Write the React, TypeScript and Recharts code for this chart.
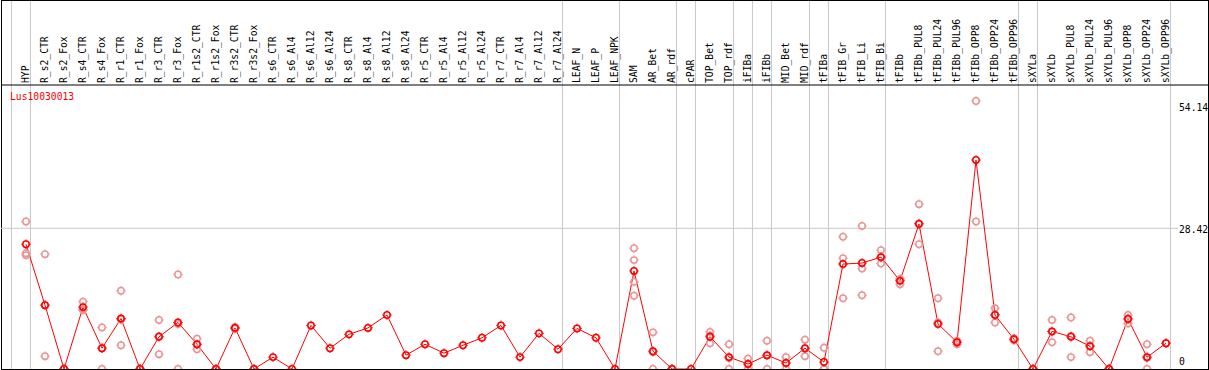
import React from "react";
import { ComposedChart, Line, XAxis, YAxis, ReferenceLine } from "recharts";

const categories = [
  "HYP", "R_s2_CTR", "R_s2_Fox", "R_s4_CTR", "R_s4_Fox", "R_r1_CTR", "R_r1_Fox", "R_r3_CTR", "R_r3_Fox",
  "R_r1s2_CTR", "R_r1s2_Fox", "R_r3s2_CTR", "R_r3s2_Fox", "R_s6_CTR", "R_s6_Al4", "R_s6_Al12", "R_s6_Al24",
  "R_s8_CTR", "R_s8_Al4", "R_s8_Al12", "R_s8_Al24", "R_r5_CTR", "R_r5_Al4", "R_r5_Al12", "R_r5_Al24",
  "R_r7_CTR", "R_r7_Al4", "R_r7_Al12", "R_r7_Al24", "LEAF_N", "LEAF_P", "LEAF_NPK", "SAM", "AR_Bet", "AR_rdf",
  "cPAR", "TOP_Bet", "TOP_rdf", "iFIBa", "iFIBb", "MID_Bet", "MID_rdf", "tFIBa", "tFIB_Gr", "tFIB_Li", "tFIB_Bi",
  "tFIBb", "tFIBb_PUL8", "tFIBb_PUL24", "tFIBb_PUL96", "tFIBb_OPP8", "tFIBb_OPP24", "tFIBb_OPP96", "sXYLa",
  "sXYLb", "sXYLb_PUL8", "sXYLb_PUL24", "sXYLb_PUL96", "sXYLb_OPP8", "sXYLb_OPP24", "sXYLb_OPP96",
];

const means = [
  25.2, 12.9, 0, 12.5, 4.2, 10.2, 0, 6.5, 9.4,
  5.0, 0, 8.3, 0, 2.4, 0, 8.8, 4.2,
  7.0, 8.3, 10.9, 2.8, 5.0, 3.2, 4.8, 6.3,
  8.8, 2.4, 7.2, 4.0, 8.2, 6.3, 0, 19.8, 3.6, 0,
  0, 6.5, 2.4, 1.0, 2.8, 1.2, 4.2, 1.4, 21.2, 21.4, 22.6,
  17.8, 29.3, 9.1, 5.4, 42.2, 10.9, 6.0, 0,
  7.6, 6.5, 4.6, 0, 10.1, 2.4, 5.2,
];

const replicates: number[][] = [
  [29.8, 23.4, 23.0], [23.2, 2.6, 12.9], [0, 0, 0], [13.6, 11.9, 12.0], [8.4, 0, 4.2],
  [15.8, 4.8, 10.0], [0, 0, 0], [9.9, 3.0, 6.6], [19.1, 0, 9.1],
  [6.1, 4.0, 4.9], [0, 0, 0], [8.5, 8.2, 8.2], [0, 0, 0], [], [], [], [],
  [], [], [], [], [], [], [], [],
  [], [], [], [], [], [], [], [24.4, 22.0, 17.6, 14.8], [7.4, 0, 3.4], [0, 0, 0],
  [], [7.5, 5.2, 6.8], [5.0, 0, 2.2], [2.1, 0, 1.0], [5.7, 0, 2.7], [2.4, 0, 1.2], [5.9, 2.6, 4.1],
  [4.3, 0, 0], [26.7, 22.4, 14.3], [28.9, 20.3, 14.9], [24.0, 21.3, 22.5],
  [18.2, 17.1, 18.0], [33.3, 25.2, 29.4], [14.3, 3.6, 9.4], [5.7, 5.0, 5.4], [54.14, 29.8], [12.3, 9.4, 11.0],
  [6.2, 5.8, 6.0], [0, 0, 0],
  [9.9, 5.4, 7.5], [10.4, 2.4, 6.7], [5.7, 3.4, 4.7], [0, 0, 0], [10.9, 9.2, 10.2], [5.0, 0, 2.2], [5.2],
];

// group separators (drawn just right of these category indices)
const separatorsAfter = [-1, 0, 28, 31, 34, 35, 37, 38, 39, 41, 42, 45, 52, 53, 60];

const yTicks = [0, 28.42, 54.14];
const gridValue = 28.42;
const title = "Lus10030013";

// layout constants
const W = 1209;
const H = 370;
const STEP = 19;
const FIRST = 25;
const PLOT_W = 1207;
const PLOT_H = 368; // plot from y=1 to y=369
const PPU = 4.951;
const XMIN = -FIRST / STEP;
const XMAX = XMIN + PLOT_W / STEP;
const YMAX = PLOT_H / PPU;
const HEADER_VAL = (369 - 85) / PPU;
const SEP_OFFSET = 0.235;
const GRID_END = (1178 - 26) / STEP;
const LABEL_Y = 83;
const FONT = "'DejaVu Sans Mono', 'Liberation Mono', monospace";
const MAIN = "#ff0000";
const REP = "#e99696";
const GRID = "#c8c8c8";

const maxReps = Math.max(...replicates.map((r) => r.length));
const data = categories.map((c, i) => {
  const row: any = { idx: i, name: c, mean: means[i] };
  for (let k = 0; k < maxReps; k++) {
    row["r" + k] = replicates[i][k] !== undefined ? replicates[i][k] : null;
  }
  return row;
});

const makeDot = (color: string) => (props: any) => {
  const { cx, cy, index, value } = props;
  if (cx == null || cy == null || value == null || isNaN(cy)) return <g key={"e" + color + index} />;
  const r = 3.2;
  const t = 1.6;
  return (
    <g key={color + index}>
      <circle cx={cx} cy={cy} r={r} fill="none" stroke={color} strokeWidth={1.5} />
      <line x1={cx} y1={cy - r} x2={cx} y2={cy - r - t} stroke={color} strokeWidth={1} />
      <line x1={cx} y1={cy + r} x2={cx} y2={cy + r + t} stroke={color} strokeWidth={1} />
      <line x1={cx - r} y1={cy} x2={cx - r - t} y2={cy} stroke={color} strokeWidth={1} />
      <line x1={cx + r} y1={cy} x2={cx + r + t} y2={cy} stroke={color} strokeWidth={1} />
    </g>
  );
};

const XTick = (props: any) => {
  const { x, payload } = props;
  const label = categories[payload.value];
  if (label === undefined) return <g />;
  return (
    <text
      x={x}
      y={LABEL_Y}
      transform={`rotate(-90 ${x} ${LABEL_Y})`}
      textAnchor="start"
      dy="0.32em"
      fontFamily={FONT}
      fontSize={9.7}
      fill="#000"
    >
      {label}
    </text>
  );
};

const yLabelShift: Record<string, number> = { "0": -7.3, "28.42": 1.2, "54.14": 7.0 };

const YTick = (props: any) => {
  const { y, payload } = props;
  const shift = yLabelShift[String(payload.value)] || 0;
  return (
    <text
      x={1179}
      y={y + shift}
      textAnchor="start"
      dominantBaseline="central"
      fontFamily={FONT}
      fontSize={9.7}
      fill="#000"
    >
      {String(payload.value)}
    </text>
  );
};

export default function App() {
  return (
    <div style={{ position: "absolute", left: 0, top: 0, width: W, height: H, background: "#fff" }}>
      <div
        style={{
          position: "absolute",
          left: 1,
          top: 0,
          width: 1206,
          height: 368,
          border: "1px solid #000",
        }}
      />
      <div style={{ position: "absolute", left: 0, top: 0 }}>
        <ComposedChart
          width={W}
          height={H}
          data={data}
          margin={{ top: 0, right: 0, bottom: 1, left: 1 }}
        >
          <XAxis
            dataKey="idx"
            type="number"
            orientation="top"
            domain={[XMIN, XMAX]}
            allowDataOverflow
            ticks={categories.map((_, i) => i)}
            interval={0}
            height={1}
            axisLine={false}
            tickLine={false}
            tickSize={0}
            tick={<XTick />}
          />
          <YAxis
            type="number"
            orientation="right"
            domain={[0, YMAX]}
            allowDataOverflow
            ticks={yTicks}
            interval={0}
            width={1}
            axisLine={false}
            tickLine={false}
            tickSize={0}
            tickMargin={0}
            tick={<YTick />}
          />
          {separatorsAfter.map((s, i) => (
            <ReferenceLine
              key={"sep" + i}
              x={s + SEP_OFFSET}
              stroke={GRID}
              strokeWidth={1}
              ifOverflow="visible"
            />
          ))}
          <ReferenceLine
            segment={[{ x: XMIN, y: gridValue }, { x: GRID_END, y: gridValue }]}
            stroke={GRID}
            strokeWidth={1}
            ifOverflow="visible"
          />
          <ReferenceLine y={HEADER_VAL} stroke="#000" strokeWidth={1} ifOverflow="visible" />
          {Array.from({ length: maxReps }, (_, k) => (
            <Line
              key={"rep" + k}
              dataKey={"r" + k}
              stroke="none"
              isAnimationActive={false}
              dot={makeDot(REP)}
              activeDot={false}
              connectNulls={false}
            />
          ))}
          <Line
            dataKey="mean"
            type="linear"
            stroke={MAIN}
            strokeWidth={1}
            isAnimationActive={false}
            dot={makeDot(MAIN)}
            activeDot={false}
          />
        </ComposedChart>
      </div>
      <div
        style={{
          position: "absolute",
          left: 10,
          top: 90,
          fontFamily: FONT,
          fontSize: 9.7,
          lineHeight: "13px",
          color: MAIN,
        }}
      >
        {title}
      </div>
    </div>
  );
}
